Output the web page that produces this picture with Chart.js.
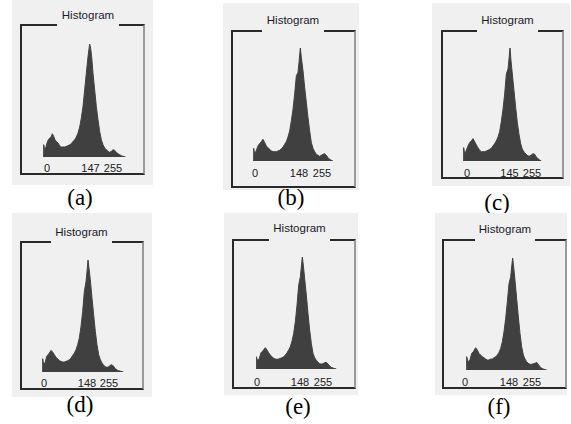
<!DOCTYPE html>
<html>
<head>
<meta charset="UTF-8" />
<title>Histogram panels</title>
<script src="https://cdn.jsdelivr.net/npm/chart.js"></script>
<style>
  body { margin: 0; background: #fff; }
  #page { position: relative; width: 571px; height: 424px; overflow: hidden; background: #fff; }
  .bg { position: absolute; background: #f0f0f0; }
  .frame { position: absolute; border-left: 2px solid #2a2a2a; border-top: 2px solid #2a2a2a; border-bottom: 2px solid #2a2a2a; border-right: 2px solid #9a9a9a; box-sizing: border-box; }
  .title { position: absolute; background: #f0f0f0; text-align: center; font: 11.5px "Liberation Sans", Arial, sans-serif; color: #1a1a2a; line-height: 14px; }
  .tick { position: absolute; font: 11px "Liberation Sans", Arial, sans-serif; color: #222; line-height: 12px; transform: translate(-50%, -50%); white-space: nowrap; }
  .cap { position: absolute; font: 23px "Liberation Serif", "Times New Roman", serif; color: #000; transform: translate(-50%, -50%); white-space: nowrap; }
  canvas { position: absolute; }
</style>
</head>
<body>
<div id="page"></div>
<script>
// gray levels (x) and counts (y)
const grayA = [0,2,5,8,12,16,20,25,28,32,36,40,45,50,55,60,65,70,75,80,85,90,95,100,105,110,115,120,125,130,135,140,143,146,150,155,160,165,170,175,180,185,190,195,200,205,210,215,220,225,230,235,240,248];
const countA = [0,37,22,27,42,52,57,62,70,62,52,47,42,34,30,30,30,32,34,37,40,47,52,60,72,90,117,152,202,252,302,340,327,302,252,202,152,112,77,52,37,27,22,17,14,17,22,20,14,10,7,4,2,0];

const grayB = [0,2,5,10,15,20,25,30,35,40,45,50,55,60,65,70,75,80,85,90,95,100,105,110,115,120,125,130,135,138,142,145,150,155,160,165,170,175,180,185,190,195,200,205,210,215,220,225,230,235,240];
const countB = [0,38,20,32,45,52,58,65,55,45,40,35,30,28,28,28,30,32,37,42,50,58,72,90,120,155,200,255,265,295,338,310,270,220,175,130,90,55,38,28,20,17,14,17,20,22,17,10,5,2,0];

const grayC = [0,2,5,10,15,20,25,30,35,40,45,50,55,60,65,70,75,80,85,90,95,100,105,110,115,120,125,130,135,138,141,144,148,153,158,163,168,173,178,185,190,195,200,205,210,215,220,225,230,235];
const countC = [0,40,20,32,45,55,60,67,58,48,40,32,28,28,28,30,32,35,38,45,52,60,72,88,118,155,200,260,275,305,338,300,260,210,160,115,80,52,35,25,20,15,15,18,22,20,12,7,3,0];

const grayD = [0,2,5,10,14,18,22,27,32,37,42,47,52,57,62,67,72,77,82,87,92,97,102,107,112,117,122,127,132,135,138,141,145,150,155,160,165,170,175,180,185,190,195,200,205,210,215,220,225,230,237,244];
const countD = [0,40,22,30,47,52,57,65,60,52,44,40,34,32,30,30,32,34,37,42,50,57,67,82,102,137,182,242,272,302,337,312,277,222,172,122,82,52,37,27,20,16,14,16,20,22,17,10,6,4,2,0];

const grayE = [0,1,5,10,15,20,28,33,38,43,48,53,58,63,68,73,78,83,88,93,98,103,108,113,118,123,128,133,136,139,142,146,151,156,161,166,171,176,181,186,191,196,201,206,211,216,221,226,233,241];
const countE = [0,37,24,32,49,54,64,57,49,42,37,32,30,29,30,32,34,37,42,49,57,67,84,107,142,192,252,277,307,337,312,272,222,167,117,77,47,34,26,20,16,15,16,19,20,15,9,5,2,0];

const grayF = [0,2,6,12,17,22,29,34,39,44,49,54,59,64,69,74,79,84,89,94,99,104,109,114,119,124,129,134,137,140,143,147,152,157,162,167,172,177,182,187,192,197,202,207,212,217,222,227,234,242];
const countF = [0,40,25,30,50,55,67,60,50,45,40,37,33,30,30,33,33,37,40,45,53,65,85,115,155,205,260,280,310,337,310,270,215,160,110,70,45,33,25,20,17,17,19,20,23,17,10,5,2,0];

// axis labels under each histogram
const ticksA = ["0", "147", "255"];
const ticksB = ["0", "148", "255"];
const ticksC = ["0", "145", "255"];
const ticksD = ["0", "148", "255"];
const ticksE = ["0", "148", "255"];
const ticksF = ["0", "148", "255"];

const captions = ["(a)", "(b)", "(c)", "(d)", "(e)", "(f)"];
const titleText = "Histogram";

// layout of every panel (pixels), kept apart from the data
const panels = [
  { gray: grayA, count: countA, ticks: ticksA, bg: [12, 0, 153, 185], frame: [20, 24, 145, 175], title: [88, 15], gap: [57, 119], plot: [43, 44, 85, 113], ymax: 340, tickX: [47, 90.5, 113], tickY: 168, cap: [80, 198] },
  { gray: grayB, count: countB, ticks: ticksB, bg: [223, 3, 359, 190], frame: [231, 30, 356, 188], title: [293, 20], gap: [262, 324], plot: [253, 48, 85, 113], ymax: 338, tickX: [255, 299, 322], tickY: 173, cap: [291, 198] },
  { gray: grayC, count: countC, ticks: ticksC, bg: [432, 3, 570, 186], frame: [441, 30, 564, 179], title: [507.5, 20], gap: [477, 538], plot: [463, 48, 85, 113], ymax: 338, tickX: [467, 509.5, 532], tickY: 173, cap: [497, 203] },
  { gray: grayD, count: countD, ticks: ticksD, bg: [12, 213, 152, 397], frame: [20, 241, 144, 390], title: [81, 232], gap: [51, 112], plot: [42, 260, 85, 112], ymax: 337, tickX: [44, 87, 109], tickY: 383, cap: [80, 405] },
  { gray: grayE, count: countE, ticks: ticksE, bg: [224, 213, 358, 395], frame: [232, 239, 356, 389], title: [300, 228], gap: [269, 330], plot: [256, 257, 85, 112], ymax: 337, tickX: [257, 300, 323], tickY: 382, cap: [298, 407] },
  { gray: grayF, count: countF, ticks: ticksF, bg: [435, 213, 567, 395], frame: [442, 239, 567, 389], title: [504, 229], gap: [475, 535], plot: [466, 258, 85, 112], ymax: 337, tickX: [465, 509, 532], tickY: 382, cap: [499, 407] }
];

const page = document.getElementById("page");

function addDiv(cls, css, text) {
  const d = document.createElement("div");
  d.className = cls;
  Object.assign(d.style, css);
  if (text !== undefined) d.textContent = text;
  page.appendChild(d);
  return d;
}

panels.forEach((p, i) => {
  addDiv("bg", { left: p.bg[0] + "px", top: p.bg[1] + "px", width: (p.bg[2] - p.bg[0]) + "px", height: (p.bg[3] - p.bg[1]) + "px" });
  addDiv("frame", { left: p.frame[0] + "px", top: p.frame[1] + "px", width: (p.frame[2] - p.frame[0]) + "px", height: (p.frame[3] - p.frame[1]) + "px" });
  // title box reaches down over the top line to cut the gap
  const tTop = p.title[1] - 7;
  addDiv("title", { left: p.gap[0] + "px", top: tTop + "px", width: (p.gap[1] - p.gap[0]) + "px", height: (p.frame[1] - tTop + 3) + "px" }, titleText);

  p.ticks.forEach((t, k) => {
    addDiv("tick", { left: p.tickX[k] + "px", top: p.tickY + "px" }, t);
  });
  addDiv("cap", { left: p.cap[0] + "px", top: p.cap[1] + "px" }, captions[i]);

  const cv = document.createElement("canvas");
  cv.width = p.plot[2];
  cv.height = p.plot[3];
  cv.style.left = p.plot[0] + "px";
  cv.style.top = p.plot[1] + "px";
  cv.style.width = p.plot[2] + "px";
  cv.style.height = p.plot[3] + "px";
  page.appendChild(cv);

  new Chart(cv.getContext("2d"), {
    type: "line",
    data: {
      datasets: [{
        data: p.gray.map((g, k) => ({ x: g, y: p.count[k] })),
        fill: "origin",
        backgroundColor: "#404040",
        borderColor: "#404040",
        borderWidth: 1,
        pointRadius: 0,
        tension: 0,
        clip: false
      }]
    },
    options: {
      responsive: false,
      animation: false,
      devicePixelRatio: 1,
      layout: { padding: 0 },
      plugins: { legend: { display: false }, tooltip: { enabled: false } },
      scales: {
        x: { type: "linear", min: 0, max: 255, display: false },
        y: { min: 0, max: p.ymax, display: false }
      }
    }
  });
});
</script>
</body>
</html>
